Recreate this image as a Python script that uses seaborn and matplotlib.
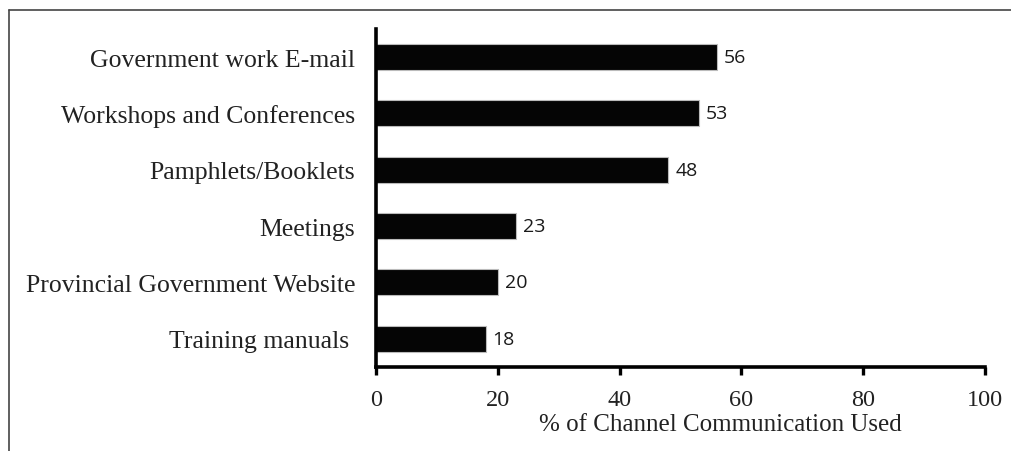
import matplotlib
matplotlib.use("Agg")
import matplotlib.pyplot as plt
from matplotlib.lines import Line2D
import seaborn as sns
import pandas as pd

categories = ["Government work E-mail", "Workshops and Conferences", "Pamphlets/Booklets",
              "Meetings", "Provincial Government Website", "Training manuals "]
values = [56, 53, 48, 23, 20, 18]
xticks = [0, 20, 40, 60, 80, 100]
xlabel = "% of Channel Communication Used"

df = pd.DataFrame({"channel": categories, "pct": values})

sns.set_theme(style="white")
plt.rcParams["font.family"] = ["Liberation Serif", "DejaVu Serif"]

fig = plt.figure(figsize=(10.11, 4.52), dpi=100)
ax = fig.add_axes([0.372, 0.186, 0.602, 0.748])

sns.barplot(data=df, x="pct", y="channel", orient="h", color="#050505",
            width=0.46, edgecolor="#bbbbbb", linewidth=0.8, ax=ax)

ax.set_xlim(0, 100)
ax.set_ylim(5.5, -0.5)
ax.set_xticks(xticks)
ax.set_xticklabels([str(t) for t in xticks])
ax.set_xlabel(xlabel, fontsize=18, color="#222222", labelpad=2, x=0.565)
ax.set_ylabel("")

for s in ["top", "right"]:
    ax.spines[s].set_visible(False)
for s in ["left", "bottom"]:
    ax.spines[s].set_linewidth(2.6)
    ax.spines[s].set_color("black")

ax.tick_params(axis="x", which="major", direction="out", length=6, width=2.4,
               color="black", labelsize=17.5, labelcolor="#222222", pad=10, bottom=True)
ax.tick_params(axis="y", length=0, labelsize=18.5, labelcolor="#222222", pad=15)

for cont in ax.containers:
    ax.bar_label(cont, labels=[str(v) for v in values], padding=5,
                 fontsize=14, color="#1a1a1a", family=["Open Sans", "DejaVu Sans"])

# partial frame around figure (top and left visible)
fig.add_artist(Line2D([9/1011, 1.0], [1 - 11/452, 1 - 11/452], color="#444444", linewidth=1.2,
                      transform=fig.transFigure))
fig.add_artist(Line2D([9/1011, 9/1011], [0.0, 1 - 11/452], color="#444444", linewidth=1.2,
                      transform=fig.transFigure))

fig.savefig("out.png", dpi=100)
